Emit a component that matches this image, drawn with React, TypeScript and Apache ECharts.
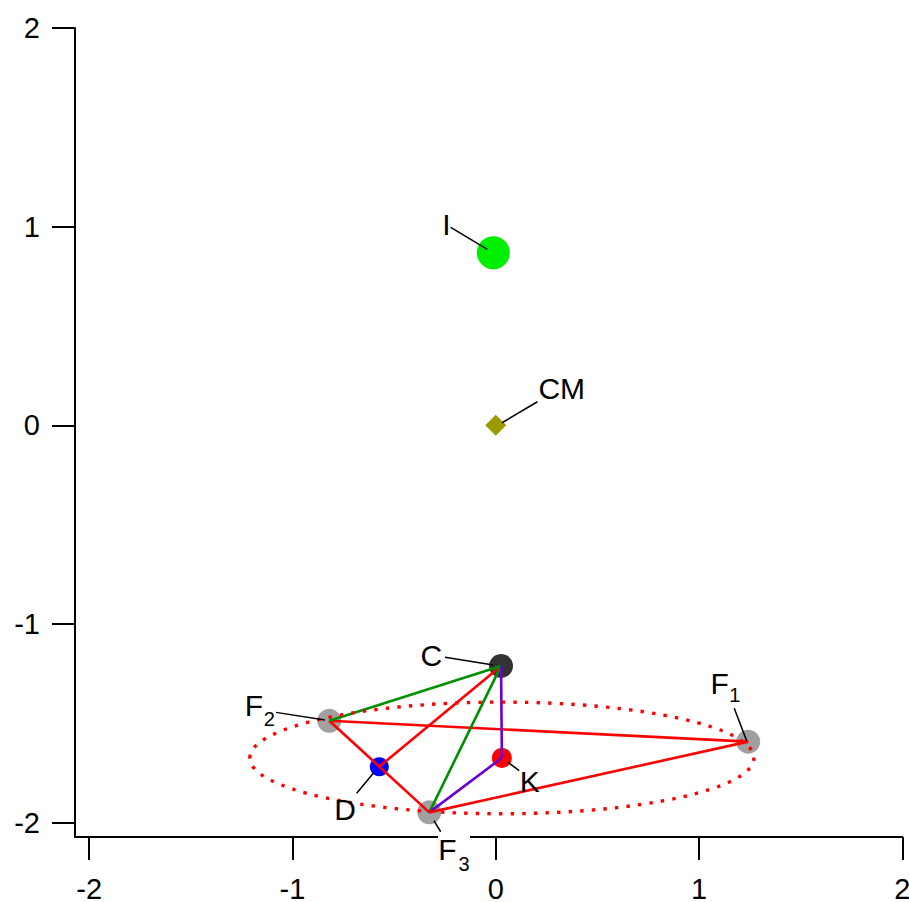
import React, { useEffect, useRef } from 'react';
import * as echarts from 'echarts';

// Points of the construction (data coordinates)
const pointNames = ['I', 'CM', 'C', 'F1', 'F2', 'F3', 'D', 'K'];
const pointX = [-0.012, 0.0, 0.026, 1.242, -0.819, -0.327, -0.573, 0.03];
const pointY = [0.869, 0.0, -1.211, -1.592, -1.487, -1.948, -1.718, -1.674];

// Segments joining named points
const redSegments = [
  ['F2', 'F1'],
  ['F1', 'F3'],
  ['F3', 'F2'],
  ['C', 'D'],
];
const greenSegments = [
  ['C', 'F2'],
  ['C', 'F3'],
];
const purpleSegments = [
  ['C', 'K'],
  ['K', 'F3'],
];

// Dotted ellipse around K (semi-axes in data units)
const ellipseCenter = 'K';
const ellipseRadii = [1.24, 0.281];

const axisTicks = [-2, -1, 0, 1, 2];
const xRange = [-2.07, 2];
const yRange = [-2.072, 2];

const FONT = 'Liberation Sans, Arial, Helvetica, sans-serif';

const markerStyle: Record<string, { symbol: string; size: number; color: string }> = {
  I: { symbol: 'circle', size: 33, color: '#00ee00' },
  CM: { symbol: 'diamond', size: 21, color: '#999900' },
  C: { symbol: 'circle', size: 24, color: '#333333' },
  F1: { symbol: 'circle', size: 24, color: '#a0a0a0' },
  F2: { symbol: 'circle', size: 24, color: '#a0a0a0' },
  F3: { symbol: 'circle', size: 24, color: '#a0a0a0' },
  D: { symbol: 'circle', size: 19, color: '#0000ff' },
  K: { symbol: 'circle', size: 20, color: '#ff0000' },
};

type LabelStyle = {
  text: string;
  at: [number, number];
  sub?: string;
  subAt?: [number, number];
  from: [number, number];
  to: [number, number];
  mask?: [number, number, number, number];
};

// Pixel offsets of the annotation texts and leader lines from each point
const labelStyle: Record<string, LabelStyle> = {
  I: { text: 'I', at: [-47, -28.4], from: [-42.6, -25.4], to: [-6, -3.4] },
  CM: { text: 'CM', at: [66, -37.3], from: [41.7, -23.6], to: [6.3, -2.6] },
  C: { text: 'C', at: [-69.7, -10.2], from: [-56, -8.7], to: [-7.7, -1] },
  F1: { text: 'F', at: [-28.6, -58.4], sub: '1', subAt: [-13.3, -46.2], from: [-14, -33.4], to: [-1.6, -1] },
  F2: { text: 'F', at: [-75.5, -14.9], sub: '2', subAt: [-60.1, -1.8], from: [-53.3, -8.4], to: [-4.3, -0.7] },
  F3: {
    text: 'F', at: [18.2, 36.7], sub: '3', subAt: [34.7, 51.2], from: [4.7, 8.4], to: [11.4, 19.4],
    mask: [8.7, 21, 32, 8],
  },
  D: { text: 'D', at: [-34.3, 42.8], from: [-22.6, 26.6], to: [-6, 6.6] },
  K: { text: 'K', at: [28, 23.4], from: [17.3, 12.7], to: [6.3, 4.4] },
};

const pt = (name: string): [number, number] => {
  const i = pointNames.indexOf(name);
  return [pointX[i], pointY[i]];
};

function segmentSeries(segs: string[][], color: string) {
  return segs.map((s) => ({
    type: 'line',
    data: [pt(s[0]), pt(s[1])],
    symbol: 'none',
    silent: true,
    z: 3,
    lineStyle: { color, width: 2.6 },
  }));
}

export default function App() {
  const ref = useRef<HTMLDivElement>(null);

  useEffect(() => {
    if (!ref.current) return;
    const chart = echarts.init(ref.current, null, { renderer: 'svg' });

    const axisCommon = {
      type: 'value',
      splitLine: { show: false },
      axisLine: { show: true, onZero: false, lineStyle: { color: '#000', width: 2 } },
      axisTick: { show: true, inside: false, length: 23, lineStyle: { color: '#000', width: 2 }, customValues: axisTicks },
    };

    const center = pt(ellipseCenter);

    const option: any = {
      animation: false,
      backgroundColor: '#ffffff',
      grid: { left: 75, top: 28, right: 6.7, bottom: 65, containLabel: false, outerBoundsMode: 'none' },
      xAxis: {
        ...axisCommon,
        min: xRange[0],
        max: xRange[1],
        axisLabel: {
          customValues: axisTicks,
          margin: 37,
          color: '#000',
          fontSize: 29,
          fontFamily: FONT,
          formatter: (v: number) => String(v),
        },
      },
      yAxis: {
        ...axisCommon,
        min: yRange[0],
        max: yRange[1],
        axisLabel: {
          customValues: axisTicks,
          margin: 35,
          color: '#000',
          fontSize: 29,
          fontFamily: FONT,
          formatter: (v: number) => String(v),
        },
      },
      series: [
        {
          type: 'scatter',
          silent: true,
          z: 2,
          data: pointNames.map((n, i) => ({
            value: [pointX[i], pointY[i]],
            symbol: markerStyle[n].symbol,
            symbolSize: markerStyle[n].size,
            itemStyle: { color: markerStyle[n].color, opacity: 1 },
          })),
        },
        ...segmentSeries(redSegments, '#ff0000'),
        ...segmentSeries(greenSegments, '#008f00'),
        ...segmentSeries(purpleSegments, '#6a00d4'),
        {
          type: 'custom',
          silent: true,
          z: 4,
          data: [[center[0], center[1], ellipseRadii[0], ellipseRadii[1]]],
          encode: { x: 0, y: 1 },
          renderItem: (_p: any, api: any) => {
            const c = api.coord([api.value(0), api.value(1)]);
            const s = api.size([api.value(2), api.value(3)]);
            return {
              type: 'ellipse',
              shape: { cx: c[0], cy: c[1], rx: s[0], ry: s[1] },
              style: { fill: 'none', stroke: '#ff0000', lineWidth: 3.4, lineDash: [3.4, 8.2] },
            };
          },
        },
        {
          type: 'custom',
          silent: true,
          z: 5,
          clip: false,
          data: pointNames.map((n, i) => [pointX[i], pointY[i], i]),
          encode: { x: 0, y: 1 },
          renderItem: (_p: any, api: any) => {
            const name = pointNames[api.value(2)];
            const L = labelStyle[name];
            const c = api.coord([api.value(0), api.value(1)]);
            const children: any[] = [];
            if (L.mask) {
              children.push({
                type: 'rect',
                shape: { x: c[0] + L.mask[0], y: c[1] + L.mask[1], width: L.mask[2], height: L.mask[3] },
                style: { fill: '#ffffff' },
              });
            }
            children.push({
              type: 'line',
              shape: { x1: c[0] + L.from[0], y1: c[1] + L.from[1], x2: c[0] + L.to[0], y2: c[1] + L.to[1] },
              style: { stroke: '#000', lineWidth: 1.5 },
            });
            children.push({
              type: 'text',
              x: c[0] + L.at[0],
              y: c[1] + L.at[1],
              style: {
                text: L.text, fill: '#000', fontSize: 30, fontFamily: FONT,
                align: 'center', verticalAlign: 'middle',
              },
            });
            if (L.sub && L.subAt) {
              children.push({
                type: 'text',
                x: c[0] + L.subAt[0],
                y: c[1] + L.subAt[1],
                style: {
                  text: L.sub, fill: '#000', fontSize: 20, fontFamily: FONT,
                  align: 'center', verticalAlign: 'middle',
                },
              });
            }
            return { type: 'group', children };
          },
        },
      ],
    };

    chart.setOption(option);
    return () => chart.dispose();
  }, []);

  return (
    <div
      ref={ref}
      style={{ position: 'fixed', left: 0, top: 0, width: 909, height: 902, background: '#fff' }}
    />
  );
}
